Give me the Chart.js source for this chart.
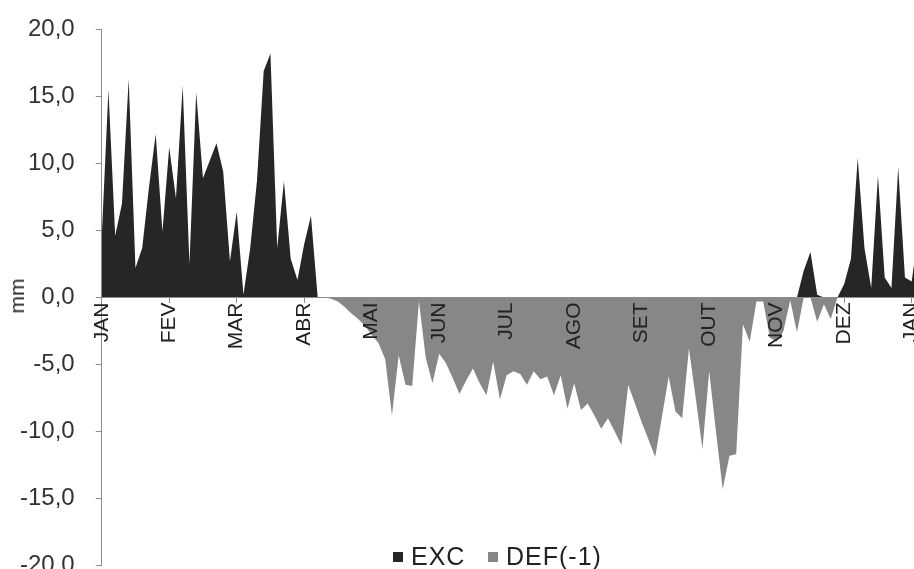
<!DOCTYPE html>
<html>
<head>
<meta charset="utf-8">
<script src="https://cdn.jsdelivr.net/npm/chart.js@4/dist/chart.umd.min.js"></script>
<style>
  html, body { margin: 0; padding: 0; background: #fff; overflow: hidden; }
  #wrap { position: relative; width: 940px; height: 600px; }
  #chart { position: absolute; left: -1px; top: -6px; }
  .leg {
    position: absolute; top: 541px;
    font-family: "Liberation Sans", Arial, sans-serif; font-size: 25px;
    color: #222; white-space: nowrap; letter-spacing: 1px; line-height: 30px;
  }
  .box { position: absolute; top: 552px; width: 10px; height: 10px; }
  #ytitle {
    position: absolute; left: 17px; top: 296px;
    transform: translate(-50%, -50%) rotate(-90deg);
    font-family: "Liberation Sans", Arial, sans-serif; font-size: 21px;
    color: #222; line-height: 22px; white-space: nowrap;
  }
</style>
</head>
<body>
<div id="wrap">
  <canvas id="chart" width="938" height="607"></canvas>
  <div id="ytitle">mm</div>
  <div class="box" style="left:393px; background:#262626"></div>
  <div class="leg" style="left:411px">EXC</div>
  <div class="box" style="left:488px; background:#878787"></div>
  <div class="leg" style="left:506px">DEF(-1)</div>
</div>
<script>
// month labels, one every 10 points
const months = ["JAN", "FEV", "MAR", "ABR", "MAI", "JUN", "JUL", "AGO", "SET", "OUT", "NOV", "DEZ", "JAN"];

// excedente hidrico (mm)
const exc = [
  4.5, 15.5, 4.6, 7.0, 16.3, 2.2, 3.7, 8.2, 12.2, 4.9,
  11.2, 7.4, 15.8, 2.5, 15.3, 8.9, 10.2, 11.5, 9.4, 2.7,
  6.4, 0.2, 3.7, 8.7, 16.9, 18.2, 3.7, 8.7, 2.9, 1.3,
  4.0, 6.1, 0, 0, 0, 0, 0, 0, 0, 0,
  0, 0, 0, 0, 0, 0, 0, 0, 0, 0,
  0, 0, 0, 0, 0, 0, 0, 0, 0, 0,
  0, 0, 0, 0, 0, 0, 0, 0, 0, 0,
  0, 0, 0, 0, 0, 0, 0, 0, 0, 0,
  0, 0, 0, 0, 0, 0, 0, 0, 0, 0,
  0, 0, 0, 0, 0, 0, 0, 0, 0, 0,
  0, 0, 0, 0, 2.0, 3.4, 0.2, 0, 0, 0,
  1.0, 2.9, 10.4, 3.7, 0.7, 9.1, 1.5, 0.7, 9.7, 1.5,
  1.2, 5.0
];

// deficit hidrico x (-1) (mm)
const def = [
  0, 0, 0, 0, 0, 0, 0, 0, 0, 0,
  0, 0, 0, 0, 0, 0, 0, 0, 0, 0,
  0, 0, 0, 0, 0, 0, 0, 0, 0, 0,
  0, 0, 0, 0, -0.1, -0.3, -0.7, -1.2, -1.6, -2.1,
  -2.8, -3.4, -4.6, -8.8, -4.3, -6.5, -6.6, -0.3, -4.5, -6.4,
  -4.2, -4.9, -6.0, -7.2, -6.2, -5.3, -6.4, -7.3, -4.8, -7.6,
  -5.8, -5.5, -5.7, -6.5, -5.5, -6.1, -5.9, -7.3, -5.8, -8.3,
  -6.4, -8.4, -7.9, -8.8, -9.8, -9.0, -10.0, -11.0, -6.5, -7.9,
  -9.3, -10.6, -11.9, -8.9, -5.9, -8.5, -9.0, -3.8, -7.5, -11.3,
  -5.5, -10.0, -14.3, -11.8, -11.7, -2.0, -3.3, -0.3, -0.3, -3.0,
  -3.3, -2.5, -0.2, -2.6, 0, 0, -1.8, -0.5, -1.6, 0,
  0, 0, 0, 0, 0, 0, 0, 0, 0, 0,
  0, 0
];

const fontFamily = '"Liberation Sans", Arial, sans-serif';

function toPoints(values) {
  return values.map((v, i) => ({ x: i, y: v }));
}

const ctx = document.getElementById("chart").getContext("2d");

new Chart(ctx, {
  type: "line",
  data: {
    datasets: [
      {
        label: "EXC",
        data: toPoints(exc),
        fill: "origin",
        backgroundColor: "#262626",
        borderWidth: 0,
        pointRadius: 0,
        tension: 0
      },
      {
        label: "DEF(-1)",
        data: toPoints(def),
        fill: "origin",
        backgroundColor: "#878787",
        borderWidth: 0,
        pointRadius: 0,
        tension: 0
      }
    ]
  },
  options: {
    responsive: false,
    animation: false,
    devicePixelRatio: 1,
    layout: {
      padding: { left: 0, right: 12, top: 10, bottom: 10 }
    },
    plugins: {
      legend: { display: false },
      tooltip: { enabled: false }
    },
    scales: {
      x: {
        type: "linear",
        min: 0,
        max: 121,
        position: { y: 0 },
        afterBuildTicks: scale => {
          scale.ticks = months.map((m, i) => ({ value: i * 10 }));
        },
        ticks: {
          z: 1,
          autoSkip: false,
          minRotation: 90,
          maxRotation: 90,
          padding: 0,
          color: "#222",
          font: { family: fontFamily, size: 21 },
          callback: value => months[value / 10]
        },
        grid: {
          z: 1,
          drawOnChartArea: false,
          tickLength: 5,
          color: "#8c8c8c"
        },
        border: { z: 1, color: "#8c8c8c" }
      },
      y: {
        min: -20,
        max: 20,
        ticks: {
          stepSize: 5,
          padding: 21,
          color: "#333",
          font: { family: fontFamily, size: 24 },
          callback: value => value.toFixed(1).replace(".", ",")
        },
        grid: {
          drawOnChartArea: false,
          tickLength: 6,
          color: "#8c8c8c"
        },
        border: { color: "#8c8c8c" }
      }
    }
  }
});
</script>
</body>
</html>
